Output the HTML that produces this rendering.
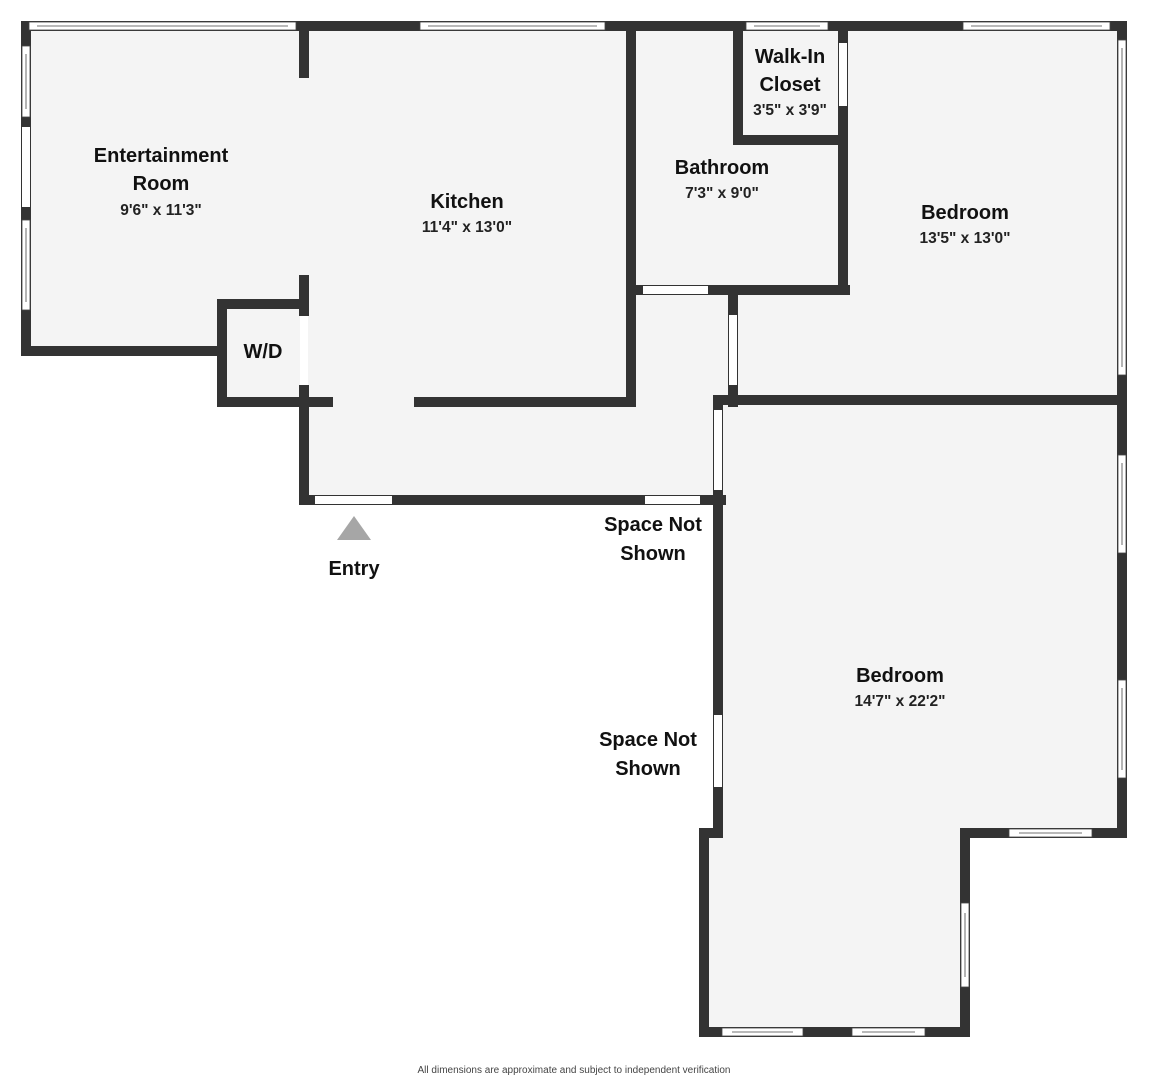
<!DOCTYPE html>
<html><head><meta charset="utf-8"><style>
html,body{margin:0;padding:0;background:#fff;}
svg{display:block;}
text{font-family:"Liberation Sans",sans-serif;fill:#111;text-anchor:middle;}
.l{font-size:20px;font-weight:bold;}
.d{font-size:15.5px;font-weight:bold;fill:#222;}
</style></head><body>
<svg width="1149" height="1080" viewBox="0 0 1149 1080" xmlns="http://www.w3.org/2000/svg">
<g fill="#f4f4f4">
<rect x="26" y="26" width="610" height="325"/>
<rect x="222" y="304" width="414" height="103"/>
<rect x="304" y="400" width="332" height="100"/>
<rect x="630" y="26" width="492" height="380"/>
<rect x="630" y="290" width="98" height="210"/>
<rect x="718" y="400" width="404" height="433"/>
<rect x="704" y="833" width="261" height="199"/>
</g>
<g fill="#333">
<rect x="21" y="21" width="1106" height="10"/>
<rect x="21" y="21" width="10" height="335"/>
<rect x="21" y="346" width="206" height="10"/>
<rect x="217" y="299" width="10" height="108"/>
<rect x="217" y="299" width="92" height="10"/>
<rect x="217" y="397" width="116" height="10"/>
<rect x="299" y="21" width="10" height="57"/>
<rect x="299" y="275" width="10" height="41"/>
<rect x="299" y="385" width="10" height="120"/>
<rect x="414" y="397" width="222" height="10"/>
<rect x="626" y="21" width="10" height="386"/>
<rect x="299" y="495" width="427" height="10"/>
<rect x="626" y="285" width="224" height="10"/>
<rect x="838" y="135" width="10" height="160"/>
<rect x="733" y="21" width="10" height="124"/>
<rect x="733" y="135" width="115" height="10"/>
<rect x="838" y="21" width="10" height="124"/>
<rect x="728" y="285" width="10" height="122"/>
<rect x="716" y="395" width="411" height="10"/>
<rect x="1117" y="21" width="10" height="817"/>
<rect x="713" y="395" width="10" height="443"/>
<rect x="699" y="828" width="24" height="10"/>
<rect x="699" y="828" width="10" height="209"/>
<rect x="699" y="1027" width="271" height="10"/>
<rect x="960" y="828" width="10" height="209"/>
<rect x="960" y="828" width="167" height="10"/>
</g>
<g fill="#fff">
<rect x="300" y="316" width="8" height="69"/>
<rect x="315" y="496" width="77" height="8"/>
<rect x="645" y="496" width="55" height="8"/>
<rect x="643" y="286" width="65" height="8"/>
<rect x="839" y="43" width="8" height="63"/>
<rect x="729" y="315" width="8" height="70"/>
<rect x="714" y="410" width="8" height="80"/>
<rect x="714" y="715" width="8" height="72"/>
<rect x="22" y="127" width="8" height="80"/>
</g>
<g fill="#fff" stroke="#444" stroke-width="0.8">
<rect x="29" y="22" width="267" height="8"/><line x1="37" y1="26" x2="288" y2="26"/>
<rect x="420" y="22" width="185" height="8"/><line x1="428" y1="26" x2="597" y2="26"/>
<rect x="746" y="22" width="82" height="8"/><line x1="754" y1="26" x2="820" y2="26"/>
<rect x="963" y="22" width="147" height="8"/><line x1="971" y1="26" x2="1102" y2="26"/>
<rect x="22" y="46" width="8" height="71"/><line x1="26" y1="54" x2="26" y2="109"/>
<rect x="22" y="220" width="8" height="90"/><line x1="26" y1="228" x2="26" y2="302"/>
<rect x="1118" y="40" width="8" height="335"/><line x1="1122" y1="48" x2="1122" y2="367"/>
<rect x="1118" y="455" width="8" height="98"/><line x1="1122" y1="463" x2="1122" y2="545"/>
<rect x="1118" y="680" width="8" height="98"/><line x1="1122" y1="688" x2="1122" y2="770"/>
<rect x="1009" y="829" width="83" height="8"/><line x1="1019" y1="833" x2="1082" y2="833"/>
<rect x="961" y="903" width="8" height="84"/><line x1="965" y1="913" x2="965" y2="977"/>
<rect x="722" y="1028" width="81" height="8"/><line x1="732" y1="1032" x2="793" y2="1032"/>
<rect x="852" y="1028" width="73" height="8"/><line x1="862" y1="1032" x2="915" y2="1032"/>
</g>
<polygon points="354,516 337,540 371,540" fill="#a6a6a6"/>
<text class="l" x="161" y="162">Entertainment</text>
<text class="l" x="161" y="190">Room</text>
<text class="d" x="161" y="215">9'6" x 11'3"</text>
<text class="l" x="467" y="208">Kitchen</text>
<text class="d" x="467" y="232">11'4" x 13'0"</text>
<text class="l" x="263" y="358">W/D</text>
<text class="l" x="722" y="174">Bathroom</text>
<text class="d" x="722" y="198">7'3" x 9'0"</text>
<text class="l" x="790" y="63">Walk-In</text>
<text class="l" x="790" y="91">Closet</text>
<text class="d" x="790" y="115">3'5" x 3'9"</text>
<text class="l" x="965" y="219">Bedroom</text>
<text class="d" x="965" y="243">13'5" x 13'0"</text>
<text class="l" x="900" y="682">Bedroom</text>
<text class="d" x="900" y="706">14'7" x 22'2"</text>
<text class="l" x="354" y="575">Entry</text>
<text class="l" x="653" y="531">Space Not</text>
<text class="l" x="653" y="560">Shown</text>
<text class="l" x="648" y="746">Space Not</text>
<text class="l" x="648" y="775">Shown</text>
<text x="574" y="1073" style="font-size:10px;fill:#444">All dimensions are approximate and subject to independent verification</text>
</svg>
</body></html>
